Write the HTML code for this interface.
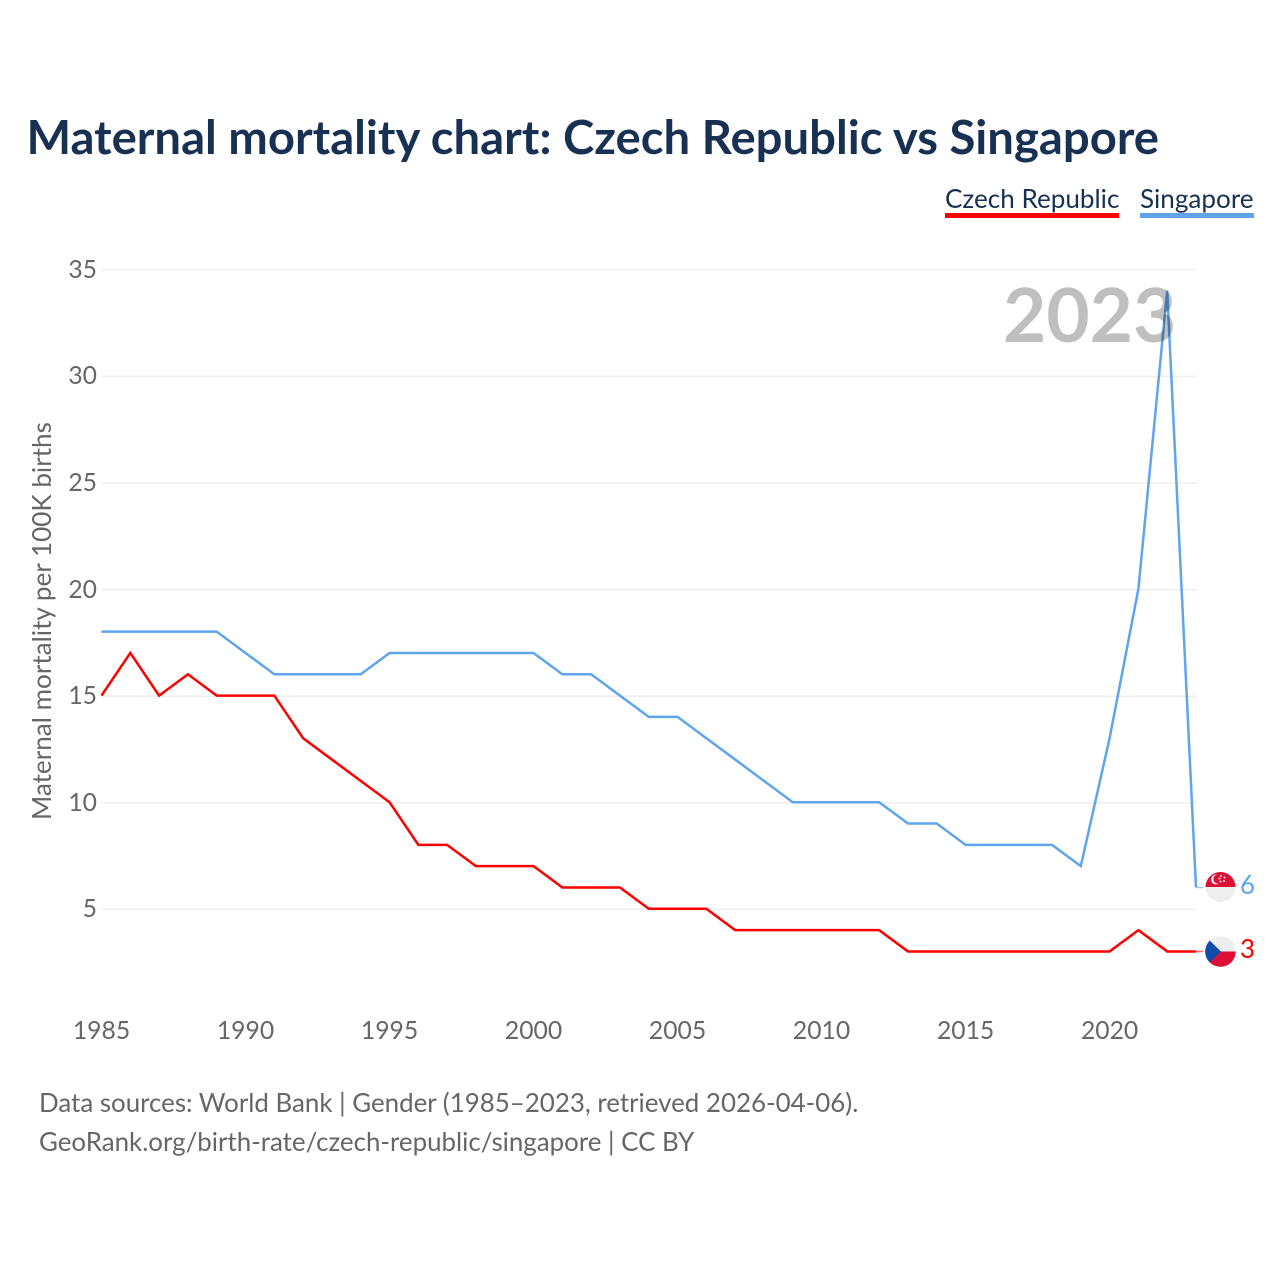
<!DOCTYPE html>
<html lang="en">
<head>
<meta charset="utf-8">
<title>Maternal mortality chart: Czech Republic vs Singapore</title>
<style>
html,body{margin:0;padding:0;background:#fff;width:1280px;height:1280px;overflow:hidden}
#page{position:relative;width:1280px;height:1280px;font-family:"Lato","Carlito","Liberation Sans",sans-serif}
svg{display:block;position:absolute;left:0;top:0}
.t{position:absolute;white-space:nowrap;line-height:1;color:#666666;font-size:25.9px}
.tick-y{width:60px;text-align:right;font-size:24.7px}
.tick-x{width:100px;text-align:center;font-size:24.7px}
</style>
</head>
<body>
<div id="page">
<svg id="chart" xmlns="http://www.w3.org/2000/svg" width="1280" height="1280" viewBox="0 0 1280 1280">
  <rect x="945" y="213" width="174" height="5" fill="#ff0000"/>
  <rect x="1140" y="213" width="114" height="5" fill="#5fa5ee"/>
  <g id="grid"></g>
  <g id="series" transform="translate(0 -0.6)"></g>
  <g id="flag-sg">
    <clipPath id="clip-sg"><circle cx="1220.5" cy="887" r="15"/></clipPath>
    <g clip-path="url(#clip-sg)">
      <rect x="1205" y="872" width="31" height="31" fill="#eeeeee"/>
      <rect x="1205" y="872" width="31" height="15" fill="#dc0f36"/>
      <circle cx="1216" cy="879.5" r="5" fill="#eeeeee"/>
      <circle cx="1218" cy="879" r="4.6" fill="#dc0f36"/>
      <circle cx="1221" cy="876" r="1" fill="#eeeeee"/>
      <circle cx="1224.5" cy="877.5" r="1" fill="#eeeeee"/>
      <circle cx="1224" cy="881" r="1" fill="#eeeeee"/>
      <circle cx="1220.5" cy="881.5" r="1" fill="#eeeeee"/>
      <circle cx="1219.5" cy="878.5" r="1" fill="#eeeeee"/>
    </g>
  </g>
  <g id="flag-cz">
    <clipPath id="clip-cz"><circle cx="1220.5" cy="951.5" r="15.3"/></clipPath>
    <g clip-path="url(#clip-cz)">
      <rect x="1205" y="936" width="31" height="16" fill="#eeeeee"/>
      <rect x="1205" y="951.5" width="31" height="16" fill="#dc0f36"/>
      <polygon points="1205,936 1221,951.5 1205,967" fill="#0f4da8"/>
    </g>
  </g>
</svg>
<div class="t" style="left:26.5px;top:113px;font-size:47.25px;font-weight:700;color:#183153">Maternal mortality chart: Czech Republic vs Singapore</div>
<div class="t" style="left:945px;top:185px;font-size:26.1px;color:#183153">Czech Republic</div>
<div class="t" style="left:1140px;top:185px;font-size:26.1px;color:#183153">Singapore</div>
<div class="t" style="left:28px;top:820px;font-size:26.1px;transform-origin:0 0;transform:rotate(-90deg)">Maternal mortality per 100K births</div>
<div class="t" style="left:1003px;top:276px;font-size:74.7px;font-weight:700;color:rgba(0,0,0,0.25)">2023</div>
<div class="t" style="left:39px;top:1090px">Data sources: World Bank | Gender (1985–2023, retrieved 2026-04-06).</div>
<div class="t" style="left:39px;top:1129px">GeoRank.org/birth-rate/czech-republic/singapore | CC BY</div>
</div>
<script>
const years = [1985,1986,1987,1988,1989,1990,1991,1992,1993,1994,1995,1996,1997,1998,1999,2000,2001,2002,2003,2004,2005,2006,2007,2008,2009,2010,2011,2012,2013,2014,2015,2016,2017,2018,2019,2020,2021,2022,2023];
const czechValues = [15,17,15,16,15,15,15,13,12,11,10,8,8,7,7,7,6,6,6,5,5,5,4,4,4,4,4,4,3,3,3,3,3,3,3,3,4,3,3];
const singaporeValues = [18,18,18,18,18,17,16,16,16,16,17,17,17,17,17,17,16,16,15,14,14,13,12,11,10,10,10,10,9,9,8,8,8,8,7,13,20,34,6];
const yTickValues = [5,10,15,20,25,30,35];
const xTickValues = [1985,1990,1995,2000,2005,2010,2015,2020];

const NS = 'http://www.w3.org/2000/svg';
const plotLeft = 101.5, plotRight = 1196;
function xScale(year){ return plotLeft + (year - 1985) * (plotRight - plotLeft) / (2023 - 1985); }
function yScale(value){ return 1016 - 21.32 * value; }
function make(tag, parent){ const el = document.createElementNS(NS, tag); parent.appendChild(el); return el; }
function makeText(parent, cls, left, top, content){
  const el = document.createElement('div');
  el.className = cls;
  el.style.left = left + 'px';
  el.style.top = top + 'px';
  el.textContent = content;
  parent.appendChild(el);
  return el;
}

const page = document.getElementById('page');
const gridGroup = document.getElementById('grid');
const seriesGroup = document.getElementById('series');

yTickValues.forEach(function(v){
  const line = make('line', gridGroup);
  
  
  line.setAttribute('x1', plotLeft);
  line.setAttribute('x2', plotRight);
  line.setAttribute('y1', yScale(v));
  line.setAttribute('y2', yScale(v));
  line.setAttribute('stroke', '#eeeeee');
  line.setAttribute('stroke-width', '1.5');
  const label = makeText(page, 't tick-y', 37, Math.round(yScale(v) - 12), v);
  
  
});

xTickValues.forEach(function(y){
  const label = makeText(page, 't tick-x', xScale(y) - 50, 1019, y);
  
  
});

function drawSeries(values, color, lineName, connectorName, labelName){
  const pts = values.map(function(v, i){ return xScale(years[i]) + ',' + yScale(v); }).join(' ');
  const path = make('polyline', seriesGroup);
  
  
  path.setAttribute('points', pts);
  path.setAttribute('fill', 'none');
  path.setAttribute('stroke', color);
  path.setAttribute('stroke-width', '2.5');
  path.setAttribute('stroke-linejoin', 'miter');
  const last = values[values.length - 1];
  const conn = make('line', seriesGroup);
  
  
  conn.setAttribute('x1', plotRight);
  conn.setAttribute('x2', plotRight + 7);
  conn.setAttribute('y1', yScale(last));
  conn.setAttribute('y2', yScale(last));
  conn.setAttribute('stroke', color);
  conn.setAttribute('stroke-opacity', '0.6');
  conn.setAttribute('stroke-width', '1.5');
  const text = makeText(page, 't', 1240, Math.round(yScale(last) - 16), last);
  text.style.color = color;
  
  
}
drawSeries(singaporeValues, '#5fa5ee', 'line-singapore', 'connector-singapore', 'end-value-singapore');
drawSeries(czechValues, '#ff0000', 'line-czech-republic', 'connector-czech-republic', 'end-value-czech-republic');
</script>
</body>
</html>
